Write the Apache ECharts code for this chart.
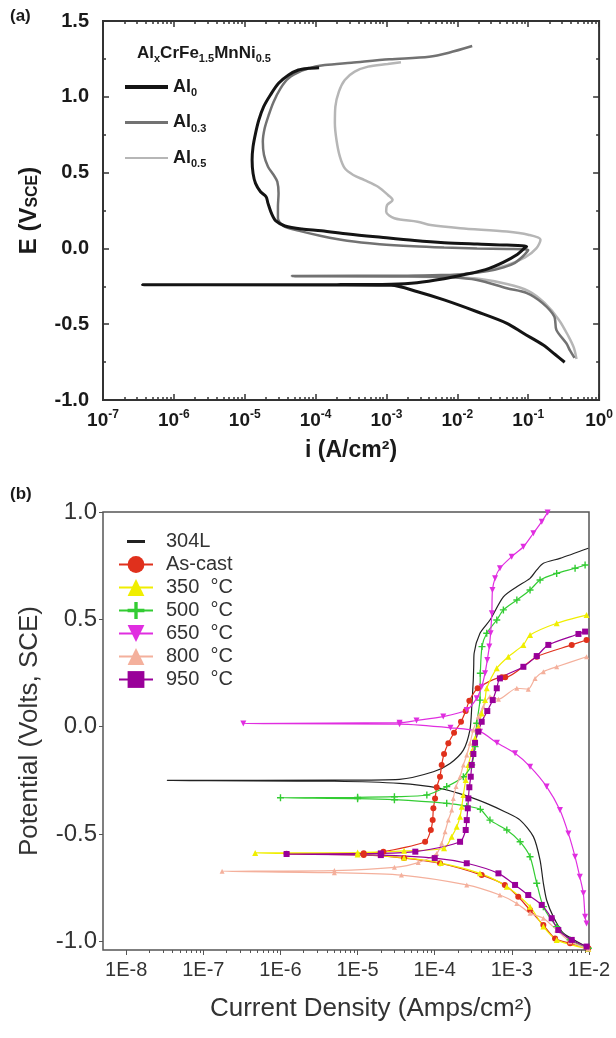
<!DOCTYPE html>
<html>
<head>
<meta charset="utf-8">
<script src="https://cdn.jsdelivr.net/npm/echarts@6/dist/echarts.min.js"></script>
<style>
  html, body { margin: 0; padding: 0; background: #fff; }
  #chart { width: 616px; height: 1038px; }
</style>
</head>
<body>
<div id="chart"></div>
<script>
// (a) AlxCrFe1.5MnNi0.5, points are [i (A/cm2), E (V SCE)]
const al0 = [[0.327,-0.751],[0.24,-0.70],[0.163,-0.637],[0.0855,-0.56],[0.05,-0.494],[0.019,-0.418],[0.0065,-0.34],[0.00275,-0.286],[0.00116,-0.243],[2.0e-4,-0.241],[3.6e-7,-0.240],[2.0e-4,-0.239],[1.16e-3,-0.236],[2.7e-3,-0.226],[6.5e-3,-0.200],[0.0123,-0.174],[0.025,-0.140],[0.045,-0.090],[0.070,-0.040],[0.088,0.000],[0.095,0.013],[0.050,0.022],[0.019,0.029],[6.5e-3,0.038],[2.5e-3,0.052],[8.4e-4,0.073],[2.87e-4,0.095],[1.21e-4,0.117],[6.4e-5,0.128],[3.7e-5,0.148],[2.75e-5,0.181],[2.38e-5,0.232],[2.13e-5,0.297],[2.0e-5,0.341],[1.67e-5,0.374],[1.42e-5,0.429],[1.31e-5,0.495],[1.27e-5,0.583],[1.31e-5,0.671],[1.42e-5,0.759],[1.58e-5,0.847],[1.85e-5,0.935],[2.3e-5,1.012],[3.0e-5,1.089],[4.15e-5,1.144],[5.7e-5,1.177],[7.9e-5,1.188],[1.12e-4,1.192]];
const al03 = [[0.45,-0.722],[0.39,-0.675],[0.345,-0.626],[0.25,-0.538],[0.233,-0.449],[0.159,-0.361],[0.0957,-0.295],[0.05,-0.263],[0.019,-0.208],[8e-3,-0.19],[2e-3,-0.184],[4.6e-5,-0.182],[2e-3,-0.180],[6e-3,-0.176],[0.0123,-0.170],[0.027,-0.150],[0.045,-0.125],[0.065,-0.095],[0.085,-0.050],[0.10,-0.010],[0.05,-0.004],[0.019,0.000],[6.5e-3,0.006],[2.4e-3,0.014],[8e-4,0.028],[2.8e-4,0.050],[1.2e-4,0.082],[5.7e-5,0.117],[3.5e-5,0.148],[2.94e-5,0.199],[2.94e-5,0.275],[3.0e-5,0.363],[2.88e-5,0.44],[2.56e-5,0.484],[2.13e-5,0.539],[1.87e-5,0.616],[1.8e-5,0.704],[1.91e-5,0.792],[2.18e-5,0.88],[2.56e-5,0.968],[3.2e-5,1.056],[4.15e-5,1.122],[6.4e-5,1.172],[1.0e-4,1.200],[1.35e-4,1.210],[3.2e-4,1.225],[1.1e-3,1.247],[4.0e-3,1.264],[7.6e-3,1.291],[0.0162,1.335]];
const al05 = [[0.48,-0.73],[0.44,-0.655],[0.37,-0.58],[0.27,-0.47],[0.17,-0.36],[0.10,-0.28],[0.05,-0.235],[0.02,-0.20],[8e-3,-0.19],[2e-3,-0.187],[5e-5,-0.185],[2e-3,-0.183],[7e-3,-0.178],[0.02,-0.155],[0.05,-0.11],[0.09,-0.06],[0.13,0.0],[0.149,0.057],[0.10,0.09],[0.05,0.111],[0.011,0.133],[4.2e-3,0.154],[2.74e-3,0.176],[1.29e-3,0.199],[9.9e-4,0.242],[1.02e-3,0.286],[1.22e-3,0.319],[1.05e-3,0.352],[7.6e-4,0.407],[4.9e-4,0.451],[3.4e-4,0.484],[2.58e-4,0.528],[2.2e-4,0.605],[1.97e-4,0.715],[1.87e-4,0.825],[1.9e-4,0.935],[2.13e-4,1.034],[2.58e-4,1.111],[3.56e-4,1.166],[5.5e-4,1.199],[1.04e-3,1.216],[1.6e-3,1.228]];

// (b) 304L and heat-treated samples, [A/cm2, V SCE]
const s304L = [[9.8e-3,-1.032],[8.45e-3,-1.017],[4.66e-3,-0.962],[3.45e-3,-0.885],[2.82e-3,-0.807],[2.56e-3,-0.729],[2.32e-3,-0.621],[1.9e-3,-0.512],[1.28e-3,-0.435],[8.1e-4,-0.396],[4.7e-4,-0.357],[2.6e-4,-0.322],[1.17e-4,-0.287],[3.5e-5,-0.264],[5e-6,-0.254],[3.4e-8,-0.250],[5e-6,-0.249],[3.5e-5,-0.245],[9.6e-5,-0.210],[1.58e-4,-0.171],[2.35e-4,-0.109],[2.86e-4,-0.015],[3.02e-4,0.093],[3.16e-4,0.218],[3.2e-4,0.279],[3.24e-4,0.342],[3.86e-4,0.435],[5.2e-4,0.497],[7.76e-4,0.605],[1.16e-3,0.652],[1.72e-3,0.691],[2.1e-3,0.730],[2.56e-3,0.761],[4.2e-3,0.784],[9.8e-3,0.831]];
const asCast = [[9.8e-3,-1.032],[5.68e-3,-1.009],[3.63e-3,-0.986],[2.56e-3,-0.924],[1.72e-3,-0.854],[1.21e-3,-0.792],[8.1e-4,-0.737],[4.06e-4,-0.691],[1.17e-4,-0.636],[4e-5,-0.612],[1.2e-5,-0.597],[1.2e-6,-0.592],[1.2e-5,-0.589],[2.16e-5,-0.582],[7.5e-5,-0.536],[8.9e-5,-0.481],[9.4e-5,-0.435],[9.6e-5,-0.380],[1.01e-4,-0.334],[1.06e-4,-0.282],[1.17e-4,-0.233],[1.23e-4,-0.178],[1.32e-4,-0.127],[1.5e-4,-0.077],[1.78e-4,-0.028],[2.19e-4,0.023],[2.52e-4,0.073],[2.81e-4,0.121],[3.6e-4,0.179],[7.4e-4,0.230],[8.2e-4,0.230],[2.1e-3,0.326],[5.97e-3,0.381],[9.3e-3,0.404]];
const t350 = [[9.8e-3,-1.035],[3.81e-3,-0.993],[2.56e-3,-0.931],[1.72e-3,-0.838],[8.6e-4,-0.745],[3.86e-4,-0.683],[1.2e-4,-0.635],[4e-5,-0.610],[1e-5,-0.595],[4.7e-7,-0.588],[1e-5,-0.586],[4e-5,-0.578],[1.32e-4,-0.566],[1.66e-4,-0.512],[1.93e-4,-0.466],[2.13e-4,-0.419],[2.24e-4,-0.373],[2.35e-4,-0.318],[2.52e-4,-0.248],[2.73e-4,-0.178],[3.02e-4,-0.116],[3.33e-4,-0.054],[3.67e-4,0.0],[4.06e-4,0.062],[4.49e-4,0.124],[4.72e-4,0.179],[6.37e-4,0.272],[9e-4,0.326],[1.41e-3,0.381],[1.72e-3,0.427],[3.81e-3,0.482],[9.3e-3,0.520]];
const t500 = [[9.8e-3,-1.032],[5.68e-3,-0.993],[3.81e-3,-0.931],[2.56e-3,-0.838],[2.1e-3,-0.729],[1.72e-3,-0.606],[1.28e-3,-0.536],[8.6e-4,-0.481],[5.2e-4,-0.435],[3.9e-4,-0.385],[2.6e-4,-0.370],[1.43e-4,-0.357],[3e-5,-0.340],[1e-5,-0.335],[1.0e-6,-0.331],[1e-5,-0.329],[3e-5,-0.326],[7.9e-5,-0.318],[1.43e-4,-0.279],[2.35e-4,-0.233],[3.02e-4,-0.178],[3.33e-4,-0.093],[3.5e-4,0.016],[3.86e-4,0.124],[3.9e-4,0.249],[4.1e-4,0.373],[4.72e-4,0.435],[6.37e-4,0.497],[7.76e-4,0.544],[1.16e-3,0.590],[1.72e-3,0.637],[2.32e-3,0.683],[3.81e-3,0.714],[6.6e-3,0.738],[8.9e-3,0.753]];
const t650 = [[9.3e-3,-0.916],[8.9e-3,-0.885],[8.45e-3,-0.776],[7.6e-3,-0.699],[6.6e-3,-0.606],[5.4e-3,-0.497],[4.2e-3,-0.388],[2.82e-3,-0.279],[1.72e-3,-0.186],[1.1e-3,-0.124],[6.4e-4,-0.075],[3.86e-4,-0.023],[1.6e-4,-0.005],[3.5e-5,0.012],[3.3e-7,0.015],[3.5e-5,0.019],[5.8e-5,0.029],[1.29e-4,0.047],[2.6e-4,0.078],[3.5e-4,0.132],[4.06e-4,0.186],[4.49e-4,0.249],[4.8e-4,0.311],[5.1e-4,0.373],[5.3e-4,0.435],[5.5e-4,0.528],[5.6e-4,0.637],[6.05e-4,0.691],[7.0e-4,0.738],[9.95e-4,0.792],[1.41e-3,0.838],[1.9e-3,0.901],[2.44e-3,0.955],[2.91e-3,0.998]];
const t800 = [[9.8e-3,-1.035],[5.68e-3,-1.001],[3.81e-3,-0.947],[2.56e-3,-0.892],[1.72e-3,-0.869],[1.16e-3,-0.823],[7.0e-4,-0.784],[2.6e-4,-0.737],[3.7e-5,-0.691],[5e-6,-0.680],[1.75e-7,-0.673],[5e-6,-0.670],[3e-5,-0.655],[6.1e-5,-0.633],[1.06e-4,-0.590],[1.23e-4,-0.543],[1.36e-4,-0.489],[1.5e-4,-0.435],[1.66e-4,-0.388],[1.74e-4,-0.334],[1.89e-4,-0.279],[2.13e-4,-0.233],[2.35e-4,-0.178],[2.6e-4,-0.132],[2.87e-4,-0.077],[3.16e-4,-0.015],[3.67e-4,0.047],[4.27e-4,0.093],[5.2e-4,0.140],[6.7e-4,0.128],[1.16e-3,0.179],[1.63e-3,0.175],[2.0e-3,0.225],[2.56e-3,0.256],[3.81e-3,0.279],[9.3e-3,0.326]];
const t950 = [[9.3e-3,-1.024],[5.97e-3,-0.993],[4.0e-3,-0.947],[3.28e-3,-0.892],[2.44e-3,-0.830],[1.63e-3,-0.784],[1.1e-3,-0.737],[6.7e-4,-0.683],[2.6e-4,-0.636],[1e-4,-0.612],[2e-5,-0.598],[1.2e-6,-0.593],[2e-5,-0.590],[5.6e-5,-0.582],[2.13e-4,-0.536],[2.52e-4,-0.481],[2.6e-4,-0.435],[2.68e-4,-0.380],[2.73e-4,-0.334],[2.81e-4,-0.282],[2.93e-4,-0.233],[3.02e-4,-0.178],[3.17e-4,-0.127],[3.33e-4,-0.075],[3.67e-4,-0.023],[4.06e-4,0.023],[4.8e-4,0.073],[5.65e-4,0.124],[6.37e-4,0.179],[7.0e-4,0.225],[1.41e-3,0.279],[2.1e-3,0.329],[2.97e-3,0.381],[7.3e-3,0.432],[8.9e-3,0.443]];

const namesA = ["Al0", "Al0.3", "Al0.5"];
const namesB = ["304L", "As-cast", "350  °C", "500  °C", "650  °C", "800  °C", "950  °C"];
const decadesA = [1e-7, 1e-6, 1e-5, 1e-4, 1e-3, 1e-2, 1e-1, 1];
const decadesB = [1e-8, 1e-7, 1e-6, 1e-5, 1e-4, 1e-3, 1e-2];
const yTicksB = [-1, -0.5, 0, 0.5, 1];

const FONT = "'Liberation Sans', Arial, Helvetica, sans-serif";
const INK_A = "#1a1a1a";
const INK_B = "#333";

const minorTicks = (from, to) => {
    const out = [];
    for (let p = from; p < to; p++) {
        for (let k = 2; k <= 9; k++) out.push(k * Math.pow(10, p));
    }
    return out;
};

const PLUS = "path://M4,0h2v4h4v2h-4v4h-2v-4h-4v-2h4z";

const logAxis = (grid, min, max, position, values, len, inside, label) => ({
    type: "log",
    logBase: 10,
    gridIndex: grid,
    min,
    max,
    position,
    axisLine: { show: false, onZero: false },
    splitLine: { show: false },
    axisTick: {
        show: true,
        inside,
        length: len,
        customValues: values,
        lineStyle: { color: grid === 0 ? "#333" : "#555", width: grid === 0 ? 1.5 : 1 }
    },
    axisLabel: label || { show: false }
});

const chart = echarts.init(document.getElementById("chart"));

const subRich = (size, sub, color) => ({
    n: { fontSize: size, fontWeight: "bold", color, fontFamily: FONT, lineHeight: size + 5 },
    s: { fontSize: sub, fontWeight: "bold", color, fontFamily: FONT, lineHeight: sub + 1, verticalAlign: "bottom" }
});

const option = {
    animation: false,
    backgroundColor: "#fff",
    title: [
        { text: "(a)", left: 5, top: 3, textStyle: { fontSize: 17, fontWeight: "bold", color: INK_A, fontFamily: FONT } },
        { text: "(b)", left: 5, top: 481, textStyle: { fontSize: 17, fontWeight: "bold", color: INK_A, fontFamily: FONT } },
        {
            text: "{n|Al}{s|x}{n|CrFe}{s|1.5}{n|MnNi}{s|0.5}",
            left: 132,
            top: 37,
            textStyle: { rich: subRich(17, 11, INK_A) }
        }
    ],
    grid: [
        { left: 103, top: 21, width: 500, height: 379, show: true, borderColor: "#333", borderWidth: 2, backgroundColor: "transparent" },
        { left: 103, top: 512, width: 486, height: 438, show: true, borderColor: "#555", borderWidth: 1.5, backgroundColor: "transparent" }
    ],
    legend: [
        {
            data: [
                { name: "Al0", icon: "path://M0,0H43V4H0Z" },
                { name: "Al0.3", icon: "path://M0,0H43V3H0Z" },
                { name: "Al0.5", icon: "path://M0,0H43V2H0Z" }
            ],
            orient: "vertical",
            left: 120,
            top: 73,
            itemWidth: 43,
            itemHeight: 22,
            itemGap: 15,
            selectedMode: false,
            formatter: name => "{n|Al}{s|" + name.slice(2) + "}",
            textStyle: { rich: subRich(18, 11, INK_A) }
        },
        {
            data: [{ name: namesB[0], icon: "path://M0,0M34,21M8,9H26V12H8Z" }].concat(namesB.slice(1)),
            orient: "vertical",
            left: 113,
            top: 526,
            itemWidth: 34,
            itemHeight: 21,
            itemGap: 2,
            selectedMode: false,
            textStyle: { fontSize: 20, color: INK_B, fontFamily: FONT, lineHeight: 21, padding: [0, 0, 0, 8] }
        }
    ],
    xAxis: [
        logAxis(0, 1e-7, 1, "bottom", decadesA, 6, true, {
            customValues: decadesA,
            margin: 9,
            formatter: v => "{n|10}{e|" + Math.round(Math.log10(v)) + "}",
            rich: {
                n: { fontSize: 19, fontWeight: "bold", color: INK_A, fontFamily: FONT, lineHeight: 23 },
                e: { fontSize: 12, fontWeight: "bold", color: INK_A, fontFamily: FONT, lineHeight: 12, verticalAlign: "top" }
            }
        }),
        logAxis(0, 1e-7, 1, "bottom", minorTicks(-7, 0), 3, true),
        logAxis(0, 1e-7, 1, "top", decadesA, 6, true),
        logAxis(0, 1e-7, 1, "top", minorTicks(-7, 0), 3, true),
        logAxis(1, 5e-9, 1e-2, "bottom", decadesB, 5, false, {
            customValues: decadesB,
            margin: 10,
            fontSize: 20,
            color: INK_B,
            fontFamily: FONT,
            formatter: v => "1E" + Math.round(Math.log10(v))
        }),
        logAxis(1, 5e-9, 1e-2, "bottom", minorTicks(-8, -2), 3, false)
    ],
    yAxis: [
        {
            type: "value",
            gridIndex: 0,
            min: -1,
            max: 1.5,
            interval: 0.5,
            position: "left",
            axisLine: { show: false, onZero: false },
            splitLine: { show: false },
            axisTick: { inside: true, length: 6, lineStyle: { color: "#333", width: 1.5 } },
            minorTick: { show: true, splitNumber: 2, length: 3, lineStyle: { color: "#333", width: 1.5 } },
            axisLabel: { margin: 14, fontSize: 20, fontWeight: "bold", color: INK_A, fontFamily: FONT, formatter: v => v.toFixed(1) },
            name: "E (V{s|SCE})",
            nameLocation: "middle",
            nameGap: 62,
            nameTextStyle: {
                fontSize: 24,
                fontWeight: "bold",
                color: INK_A,
                fontFamily: FONT,
                rich: { s: { fontSize: 16, fontWeight: "bold", color: INK_A, fontFamily: FONT, lineHeight: 16, verticalAlign: "bottom" } }
            }
        },
        {
            type: "value",
            gridIndex: 0,
            min: -1,
            max: 1.5,
            interval: 0.5,
            position: "right",
            axisLine: { show: false, onZero: false },
            splitLine: { show: false },
            axisTick: { inside: true, length: 6, lineStyle: { color: "#333", width: 1.5 } },
            minorTick: { show: true, splitNumber: 2, length: 3, lineStyle: { color: "#333", width: 1.5 } },
            axisLabel: { show: false }
        },
        {
            type: "value",
            gridIndex: 1,
            min: -1.04,
            max: 1,
            position: "left",
            axisLine: { show: false, onZero: false },
            splitLine: { show: false },
            axisTick: { length: 4, customValues: yTicksB, lineStyle: { color: "#555" } },
            axisLabel: { customValues: yTicksB, margin: 6, fontSize: 24, color: INK_B, fontFamily: FONT, formatter: v => v.toFixed(1) },
            name: "Potential (Volts, SCE)",
            nameLocation: "middle",
            nameGap: 60,
            nameTextStyle: { fontSize: 26, color: INK_B, fontFamily: FONT }
        }
    ],
    series: []
};

// the x axis names are put on the first axis of each grid
option.xAxis[0].name = "i (A/cm²)";
option.xAxis[0].nameLocation = "middle";
option.xAxis[0].nameGap = 39;
option.xAxis[0].nameTextStyle = { fontSize: 23, fontWeight: "bold", color: INK_A, fontFamily: FONT };
option.xAxis[4].name = "Current Density (Amps/cm²)";
option.xAxis[4].nameLocation = "middle";
option.xAxis[4].nameGap = 46;
option.xAxis[4].nameTextStyle = { fontSize: 26, color: INK_B, fontFamily: FONT, padding: [0, 0, 0, 50] };

const lineA = (name, data, color, width, z) => ({
    name,
    type: "line",
    xAxisIndex: 0,
    yAxisIndex: 0,
    data,
    symbol: "none",
    smooth: 0.3,
    z,
    lineStyle: { color, width },
    itemStyle: { color }
});

const lineB = (name, data, color, symbol, size, rotate) => ({
    name,
    type: "line",
    xAxisIndex: 4,
    yAxisIndex: 2,
    data,
    symbol,
    symbolSize: size,
    symbolRotate: rotate || 0,
    showSymbol: symbol !== "none",
    smooth: 0.25,
    lineStyle: { color, width: 1.2 },
    itemStyle: { color }
});

option.series = [
    lineA(namesA[0], al0, "#141414", 3, 5),
    lineA(namesA[1], al03, "#727272", 2.5, 4),
    lineA(namesA[2], al05, "#b6b6b6", 2.5, 3),
    lineB(namesB[0], s304L, "#222", "none", 0),
    lineB(namesB[1], asCast, "#e0301c", "circle", 6),
    lineB(namesB[2], t350, "#f0ee00", "triangle", 6),
    lineB(namesB[3], t500, "#33cc33", PLUS, 7),
    lineB(namesB[4], t650, "#e02ee0", "triangle", 6, 180),
    lineB(namesB[5], t800, "#f4b09c", "triangle", 5),
    lineB(namesB[6], t950, "#990099", "rect", 6)
];

chart.setOption(option);
</script>
</body>
</html>
